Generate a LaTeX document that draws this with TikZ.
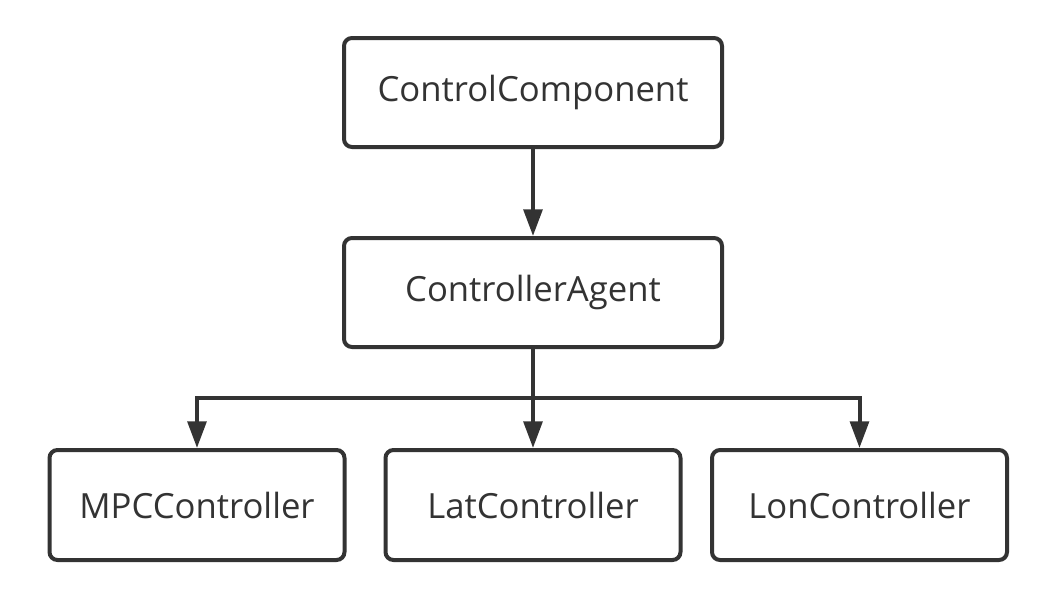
\documentclass[tikz,border=0pt]{standalone}
\usepackage{fontspec}
\setmainfont{Open Sans}
\usetikzlibrary{arrows.meta}
\definecolor{ink}{HTML}{333333}
\begin{document}
\begin{tikzpicture}[x=0.75pt,y=-0.75pt,
  box/.style={draw=ink,line width=3pt,rounded corners=6pt,fill=white,
    text=ink,font=\fontsize{26}{30}\selectfont,inner sep=0pt},
  bigbox/.style={box,minimum width=283.5pt,minimum height=81.75pt},
  smallbox/.style={box,minimum width=221.25pt,minimum height=82.5pt},
  conn/.style={draw=ink,line width=3pt},
  arr/.style={conn,-{Triangle[length=20pt,width=14pt]}}]
\useasboundingbox (0,0) rectangle (1054,604);
\fill[white] (0,0) rectangle (1054,604);
\node[bigbox] (cc) at (533,92.5) {ControlComponent};
\node[bigbox] (ag) at (533,292.5) {ControllerAgent};
\node[smallbox] (mpc) at (197,505) {MPCController};
\node[smallbox] (lat) at (533,505) {LatController};
\node[smallbox] (lon) at (859.5,505) {LonController};
\coordinate (j) at (533,398);
\draw[arr] (cc.south) -- (ag.north);
\draw[arr] (ag.south) -- (lat.north);
\draw[arr] (j) -| (mpc.north);
\draw[arr] (j) -| (lon.north);
\end{tikzpicture}
\end{document}
